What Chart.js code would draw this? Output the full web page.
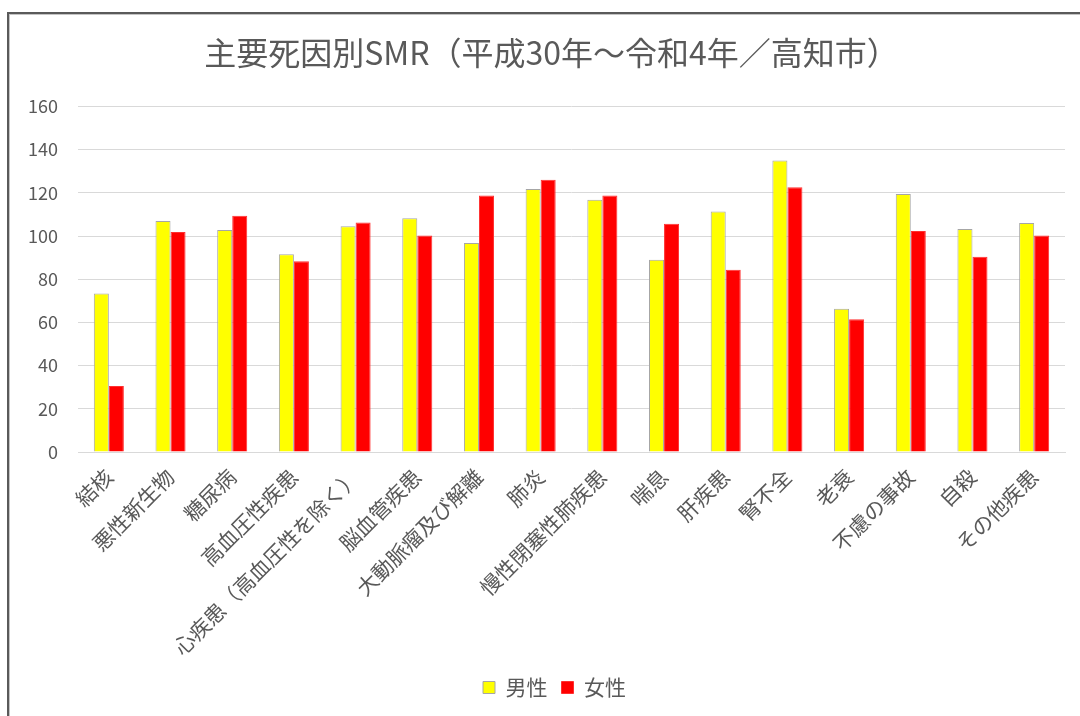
<!DOCTYPE html>
<html>
<head>
<meta charset="utf-8">
<script src="https://cdn.jsdelivr.net/npm/chart.js@4/dist/chart.umd.min.js"></script>
<style>
  html, body { margin: 0; padding: 0; background: #fff; overflow: hidden; }
  #wrap { position: relative; width: 1080px; height: 716px; }
  #frame { position: absolute; left: 7px; top: 12px; width: 1200px; height: 800px;
           border-top: 2px solid #5a5a5a; border-left: 2px solid #5a5a5a;
           box-shadow: inset 1px 1px 0 #c4c4c4; }
  canvas { position: absolute; left: 0; top: 0; }
</style>
</head>
<body>
<div id="wrap">
  <div id="frame"></div>
  <canvas id="c" width="1080" height="716"></canvas>
</div>
<script>
const chartTitle = '主要死因別SMR（平成30年～令和4年／高知市）';
const categories = ['結核', '悪性新生物', '糖尿病', '高血圧性疾患', '心疾患（高血圧性を除く）',
  '脳血管疾患', '大動脈瘤及び解離', '肺炎', '慢性閉塞性肺疾患', '喘息', '肝疾患',
  '腎不全', '老衰', '不慮の事故', '自殺', 'その他疾患'];
const seriesNames = ['男性', '女性'];
const maleValues = [73.4, 107.0, 102.8, 91.5, 104.5, 108.2, 96.8, 121.8, 116.8, 89.0, 111.4, 134.9, 66.3, 119.5, 103.2, 106.0];
const femaleValues = [30.6, 101.9, 109.4, 88.3, 106.2, 100.2, 118.7, 126.0, 118.7, 105.7, 84.4, 122.6, 61.5, 102.3, 90.4, 100.2];
const yTicks = [0, 20, 40, 60, 80, 100, 120, 140, 160];

const FONT = '"Noto Sans CJK JP", "Noto Sans", sans-serif';
const TXT = '#595959';

const shiftBoxes = {
  id: 'shiftBoxes',
  afterLayout(chart) {
    if (chart.legend) { chart.legend.left += 17; chart.legend.right += 17; }
    if (chart.titleBlock) { chart.titleBlock.left += 14; chart.titleBlock.right += 14; }
  }
};

new Chart(document.getElementById('c'), {
  type: 'bar',
  data: {
    labels: categories,
    datasets: [
      { label: seriesNames[0], data: maleValues, backgroundColor: '#FFFF00',
        borderColor: '#A6A6A6', borderWidth: 1, borderSkipped: 'bottom' },
      { label: seriesNames[1], data: femaleValues, backgroundColor: '#FF0000',
        borderColor: '#FF3030', borderWidth: 1, borderSkipped: 'bottom' }
    ]
  },
  plugins: [shiftBoxes],
  options: {
    responsive: false,
    animation: false,
    devicePixelRatio: 1,
    layout: { padding: { left: 10, right: 15, top: 0, bottom: 8 } },
    datasets: { bar: { categoryPercentage: 0.487, barPercentage: 1.0 } },
    plugins: {
      title: {
        display: true, text: chartTitle, color: TXT,
        font: { family: FONT, size: 32, weight: 'normal' },
        padding: { top: 34, bottom: 34 }
      },
      legend: {
        position: 'bottom',
        labels: { color: TXT, font: { family: FONT, size: 21 },
          boxWidth: 12, boxHeight: 12, padding: 14 }
      },
      tooltip: { enabled: false }
    },
    scales: {
      x: {
        grid: { display: false, drawTicks: false },
        border: { display: true, color: '#D9D9D9', width: 1 },
        ticks: { color: TXT, font: { family: FONT, size: 21 }, autoSkip: false,
          maxRotation: 45, minRotation: 45, padding: 12 },
        afterFit: (s) => { s.height = 211; }
      },
      y: {
        min: 0, max: 160,
        afterBuildTicks: (s) => { s.ticks = yTicks.map(v => ({ value: v })); },
        grid: { color: '#D9D9D9', lineWidth: 1, drawTicks: false },
        border: { display: false },
        ticks: { color: TXT, font: { family: FONT, size: 18 }, padding: 20 },
        afterFit: (s) => { s.width = 68; }
      }
    }
  }
});
</script>
</body>
</html>
